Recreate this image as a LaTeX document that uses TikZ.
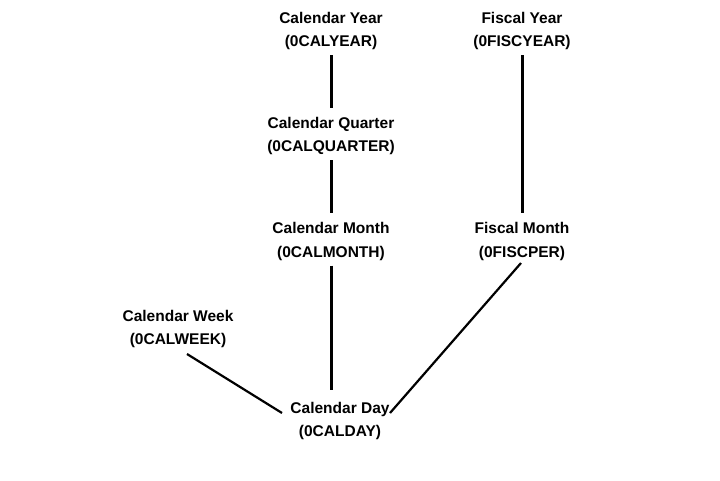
\documentclass[tikz,border=0pt]{standalone}
\usepackage{fontspec}
\setmainfont{Liberation Sans}
\begin{document}
\begin{tikzpicture}[x=1pt,y=-1pt,
        lvl/.style={align=center, inner sep=5pt, font=\bfseries\fontsize{15.5}{23.5}\selectfont},
        vlink/.style={line width=3pt, shorten >=4pt},
        dlink/.style={line width=2.2pt}]
        \useasboundingbox (0,0) rectangle (720,480);
        \node[lvl] (yr) at (331,31) {Calendar Year\\(0CALYEAR)};
        \node[lvl] (qtr) at (331,136) {Calendar Quarter\\(0CALQUARTER)};
        \node[lvl] (cmon) at (331,241.5) {Calendar Month\\(0CALMONTH)};
        \node[lvl] (fyr) at (522,31) {Fiscal Year\\(0FISCYEAR)};
        \node[lvl] (fmon) at (522,241.5) {Fiscal Month\\(0FISCPER)};
        \node[lvl] (week) at (178,329) {Calendar Week\\(0CALWEEK)};
        \node[lvl] (day) at (340,421) {Calendar Day\\(0CALDAY)};
        \draw[vlink] (yr.south) -- (qtr.north);
        \draw[vlink] (qtr.south) -- (cmon.north);
        \draw[vlink, shorten >=7pt] (cmon.south) -- (cmon.south |- day.north);
        \draw[vlink] (fyr.south) -- (fmon.north);
        \draw[dlink] ([xshift=9pt,yshift=-25pt]week.center) -- ([xshift=-58pt,yshift=8pt]day.center);
        \draw[dlink] ([xshift=-1pt,yshift=-21.5pt]fmon.center) -- ([xshift=50pt,yshift=8pt]day.center);
\end{tikzpicture}
\end{document}
